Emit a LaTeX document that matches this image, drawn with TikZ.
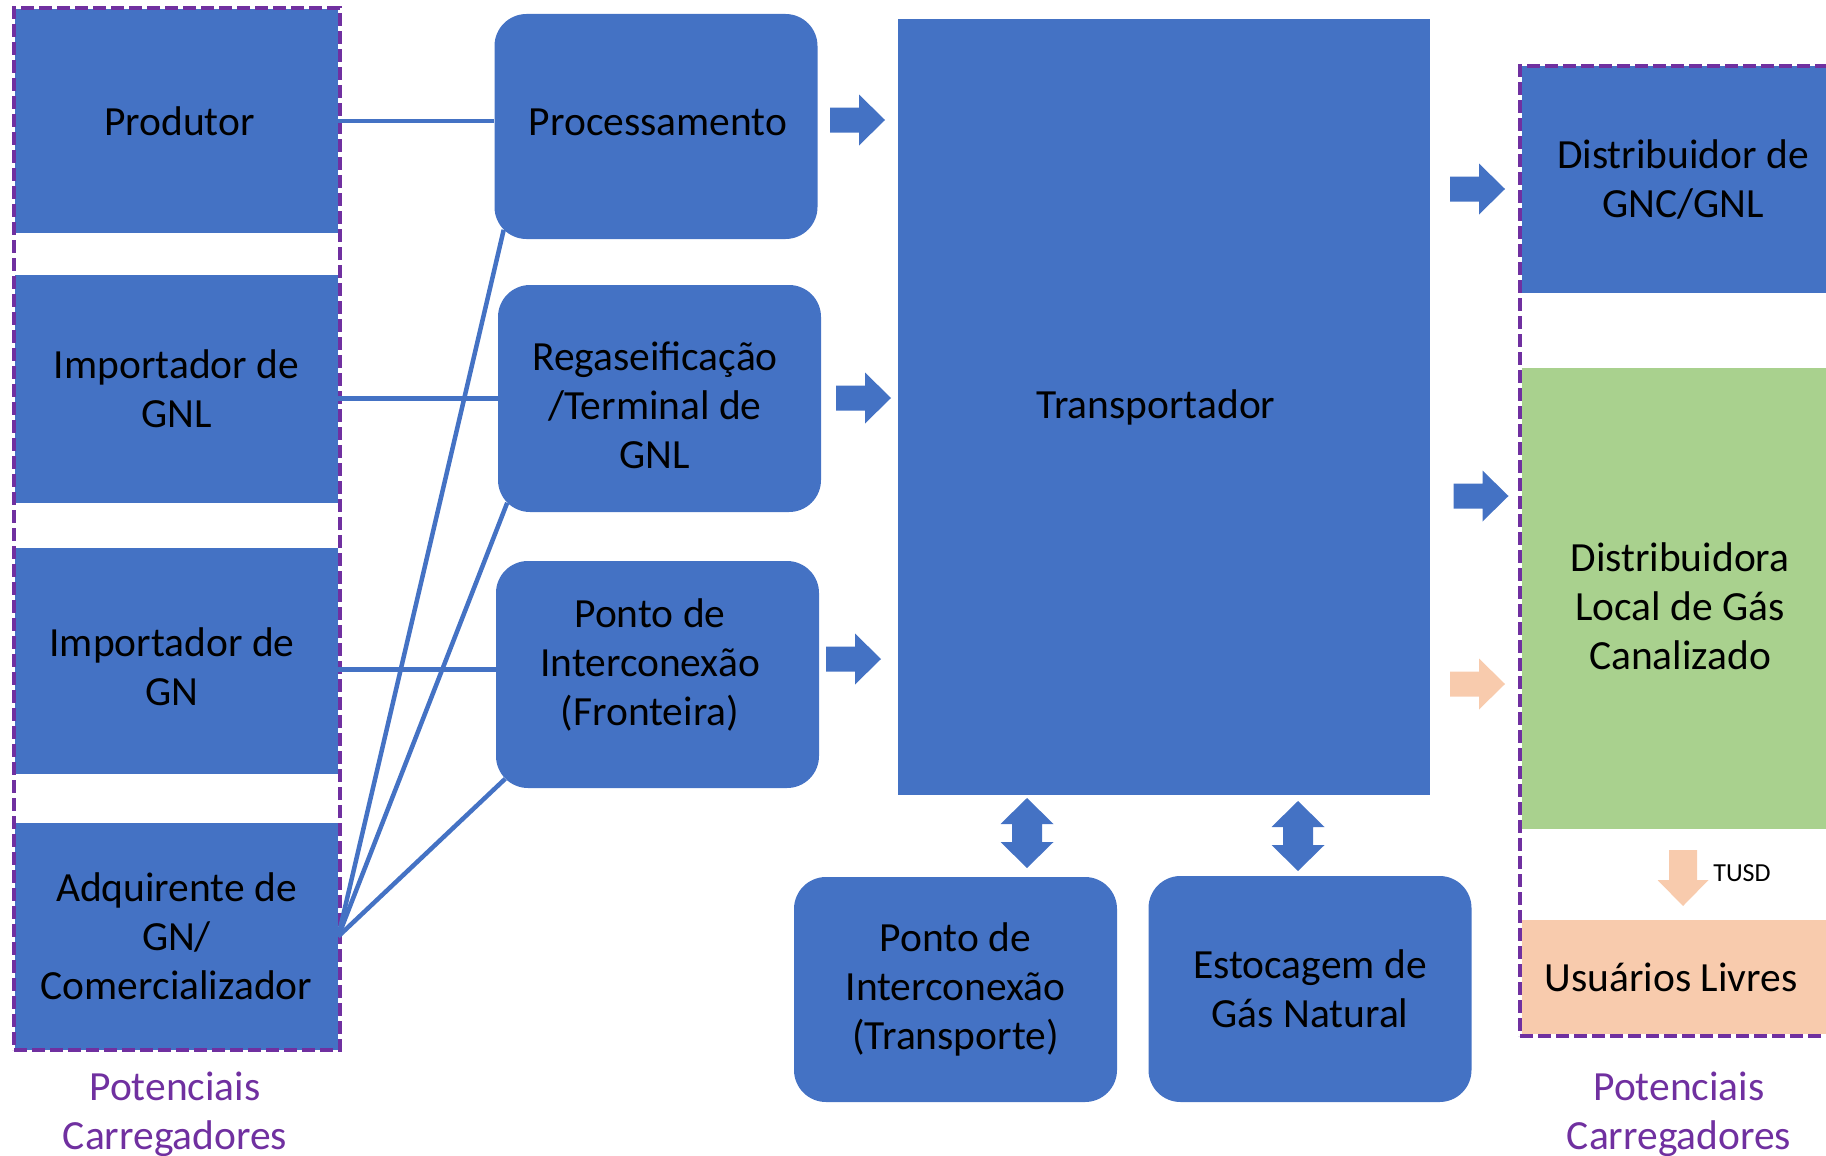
\documentclass[tikz,border=0pt]{standalone}
\usepackage{fontspec}
\setmainfont{Carlito}
\usetikzlibrary{calc}
\definecolor{boxblue}{HTML}{4472C4}
\definecolor{grpurple}{HTML}{7030A0}
\definecolor{boxgreen}{HTML}{A9D18E}
\definecolor{peach}{HTML}{F8CBAD}
\begin{document}
\begin{tikzpicture}[x=1pt,y=-1pt,
  every node/.style={font=\fontsize{41.5}{49}\selectfont, align=center, text=black, inner sep=0pt},
  sqbox/.style={fill=boxblue, minimum width=323pt, minimum height=226pt},
  rbox/.style={fill=boxblue, rounded corners=32pt, minimum width=323pt, minimum height=226pt},
  group/.style={draw=grpurple, line width=4pt, dash pattern=on 13pt off 5pt, minimum width=326pt},
  conn/.style={draw=boxblue, line width=4.5pt},
  grouplabel/.style={text=grpurple},
  pics/rarrow/.style={code={\fill[#1] (-27.5,-12.5) -- (1.5,-12.5) -- (1.5,-25.5) -- (27.5,0) -- (1.5,25.5) -- (1.5,12.5) -- (-27.5,12.5) -- cycle;}},
  pics/rarrow/.default=boxblue,
  pics/darrow/.style={code={\fill[boxblue] (0,-35) -- (26.5,-9) -- (15,-9) -- (15,9) -- (26.5,9) -- (0,35) -- (-26.5,9) -- (-15,9) -- (-15,-9) -- (-26.5,-9) -- cycle;}},
  pics/downarrow/.style={code={\fill[peach] (-14,-28) -- (14,-28) -- (14,2) -- (25.5,2) -- (0,28) -- (-25.5,2) -- (-14,2) -- cycle;}},
]
\useasboundingbox (0,0) rectangle (1826,1156);
\clip (0,0) rectangle (1826,1156);

% left column: shippers
\node[sqbox, minimum height=224pt] (prod)   at (176.5,121)   {\hspace*{6pt}Produtor};
\node[sqbox, minimum height=228pt] (impgnl) at (176.5,389)   {Importador de\\GNL};
\node[sqbox] (impgn)  at (176.5,661)   {};
\node (impgn-t) at (172,667) {Importador de\\GN};
\node[sqbox, minimum height=227pt] (adq)    at (176.5,936.5) {Adquirente de\\GN/\\Comercializador};

% middle column: entry facilities
\node[rbox, minimum height=225pt] (proc)   at (656,126.5)   {};
\node (proc-t) at (658,122) {Processamento};
\node[rbox, minimum height=227pt] (regas)  at (659.5,398.5) {};
\node (regas-t) at (655,405) {Regaseificação\\/Terminal de\\GNL};
\node[rbox, minimum height=227pt] (pfront) at (657.5,674.5) {};
\node (pfront-t) at (650,665) {Ponto de\\Interconexão\\(Fronteira)};

% transmission
\node[fill=boxblue, minimum width=532pt, minimum height=776pt] (transp) at (1164,407) {\hspace*{-16pt}Transportador};
\node[rbox, minimum height=225pt] (ptrans) at (955.5,989.5) {Ponto de\\Interconexão\\(Transporte)};
\node[rbox] (estoc) at (1310,989) {Estocagem de\\Gás Natural};

% right column: distribution
\node[sqbox, minimum width=322pt, minimum height=227pt] (distgnc) at (1683,179.5) {Distribuidor de\\GNC/GNL};
\node[fill=boxgreen, minimum width=322pt, minimum height=461pt] (dlgc) at (1683,598.5) {};
\node (dlgc-t) at (1680,606) {Distribuidora\\Local de Gás\\Canalizado};
\node[fill=peach, minimum width=322pt, minimum height=114pt] (livres) at (1683,977) {\hspace*{-24pt}Usuários Livres};

% shipper groups
\node[group, minimum height=1042pt] (grpleft)  at (177,529)  {};
\node[group, minimum height=970pt]  (grpright) at (1683,551) {};
\node[grouplabel] (lblleft)  at (175,1114)  {Potenciais\\Carregadores};
\node[grouplabel] (lblright) at (1679,1114) {Potenciais\\Carregadores};

% connectors
\draw[conn] (prod.east) -- (prod.east -| proc.west);
\draw[conn] (regas.west -| impgnl.east) -- (regas.west);
\draw[conn] ($(pfront.west -| impgn.east)+(0,-5)$) -- ($(pfront.west)+(0,-5)$);
\draw[conn] (adq.east) -- ($(proc.south west)+(9.4,-9.4)$);
\draw[conn] (adq.east) -- ($(regas.south west)+(9.4,-9.4)$);
\draw[conn] (adq.east) -- ($(pfront.south west)+(9.4,-9.4)$);

% flow arrows
\pic (a1) at (857.5,120)  {rarrow};
\pic (a2) at (863.5,398)  {rarrow};
\pic (a3) at (853.5,659)  {rarrow};
\pic (a4) at (1477.5,189) {rarrow};
\pic (a5) at (1481,496)   {rarrow};
\pic (a6) at (1477.5,684) {rarrow=peach};
\pic (d1) at (1027,833) {darrow};
\pic (d2) at (1298,836) {darrow};
\pic (t1) at (1683,878) {downarrow};
\node[font=\fontsize{26}{30}\selectfont] (tusd) at (1742,873) {TUSD};
\end{tikzpicture}
\end{document}
